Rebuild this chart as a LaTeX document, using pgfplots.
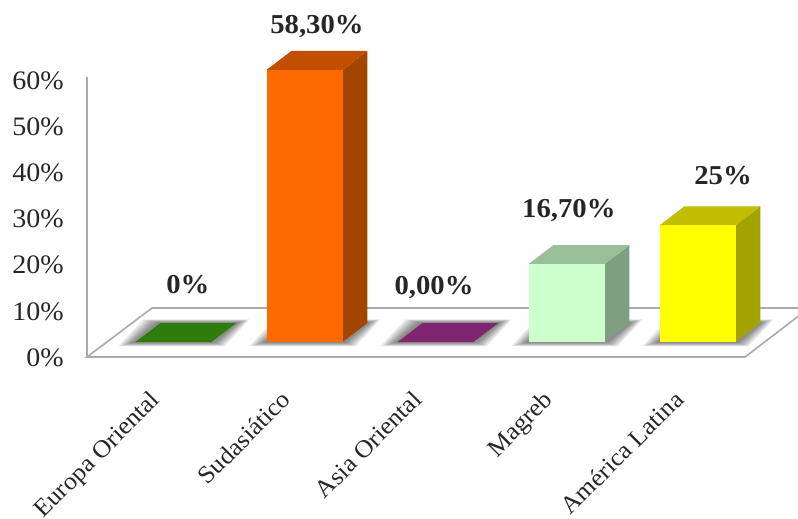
\documentclass[border=0pt]{standalone}
\usepackage{fontspec}
\setmainfont[FakeStretch=1.05]{Liberation Serif}
\usepackage{pgfplots}
\pgfplotsset{compat=1.18}
\definecolor{axisgray}{RGB}{170,170,170}
\definecolor{ctext}{RGB}{38,38,38}
\newcommand\shadowlayer[2]{%
  \fill[black, opacity=0.09]
    (axis cs:#1-0.29-0.13*#2,-0.9*#2) -- (axis cs:#1+0.29+0.10*#2,-0.9*#2)
    -- (axis cs:#1+0.48+0.10*#2,4.07+0.8*#2) -- (axis cs:#1-0.10-0.13*#2,4.07+0.8*#2) -- cycle;}
\begin{document}
\begin{tikzpicture}
\path[use as bounding box] (-65.25pt,-120.75pt) rectangle (533.25pt,267.75pt);
\begin{axis}[
    scale only axis,
    width=533.25pt,
    height=267.75pt,
    xmin=-0.6603, xmax=4.767,
    ymin=-3.214, ymax=73.28,
    clip=false,
    axis line style={draw=none},
    major tick length=0pt,
    xtick={0,1,2,3,4},
    xticklabels={Europa Oriental,Sudasiático,Asia Oriental,Magreb,América Latina},
    xticklabel style={rotate=45, anchor=north east, font=\fontsize{18.5}{18.5}\selectfont, text=ctext, xshift=-26.5pt, yshift=-0.5pt},
    ytick={-3.21,6.68,16.57,26.46,36.35,46.24,56.13},
    yticklabels={0\%,10\%,20\%,30\%,40\%,50\%,60\%},
    yticklabel style={font=\fontsize{20}{20}\selectfont, text=ctext, xshift=-14pt, yshift=-0.4pt},
]
% floor and wall
\addplot[fill=white, draw=axisgray, line width=1.2pt] coordinates {(-0.66,-3.21) (4.363,-3.21) (4.851,7.29) (-0.164,7.29)} -- cycle;
\addplot[draw=axisgray, line width=1.2pt] coordinates {(-0.66,-3.21) (-0.66,56.8)};

% soft shadows on the floor
\pgfplotsinvokeforeach{0,1,2,3,4}{
  \shadowlayer{#1}{1}\shadowlayer{#1}{0.85}\shadowlayer{#1}{0.7}\shadowlayer{#1}{0.55}\shadowlayer{#1}{0.4}\shadowlayer{#1}{0.25}
}

% Europa Oriental
\addplot[fill={rgb,255:red,46;green,125;blue,11}, draw=none] coordinates {(-0.29,0) (0.29,0) (0.48,4.07) (-0.10,4.07)} -- cycle;
% Sudasiatico
\addplot[fill={rgb,255:red,163;green,68;blue,0}, draw=none] coordinates {(1.29,0) (1.48,4.07) (1.48,62.37) (1.29,58.3)} -- cycle;
\addplot[fill={rgb,255:red,194;green,78;blue,0}, draw=none] coordinates {(0.71,58.3) (1.29,58.3) (1.48,62.37) (0.90,62.37)} -- cycle;
\addplot[ybar, bar shift=0pt, bar width=0.58, fill={rgb,255:red,255;green,106;blue,0}, draw=none] coordinates {(1,58.3)};
% Asia Oriental
\addplot[fill={rgb,255:red,128;green,38;blue,112}, draw=none] coordinates {(1.71,0) (2.29,0) (2.48,4.07) (1.90,4.07)} -- cycle;
% Magreb
\addplot[fill={rgb,255:red,127;green,160;blue,128}, draw=none] coordinates {(3.29,0) (3.48,4.07) (3.48,20.77) (3.29,16.7)} -- cycle;
\addplot[fill={rgb,255:red,153;green,191;blue,153}, draw=none] coordinates {(2.71,16.7) (3.29,16.7) (3.48,20.77) (2.90,20.77)} -- cycle;
\addplot[ybar, bar shift=0pt, bar width=0.58, fill={rgb,255:red,204;green,255;blue,204}, draw=none] coordinates {(3,16.7)};
% America Latina
\addplot[fill={rgb,255:red,163;green,163;blue,0}, draw=none] coordinates {(4.29,0) (4.48,4.07) (4.48,29.07) (4.29,25)} -- cycle;
\addplot[fill={rgb,255:red,194;green,189;blue,0}, draw=none] coordinates {(3.71,25) (4.29,25) (4.48,29.07) (3.90,29.07)} -- cycle;
\addplot[ybar, bar shift=0pt, bar width=0.58, fill={rgb,255:red,255;green,255;blue,0}, draw=none] coordinates {(4,25)};

% value labels
\begin{scope}[every node/.style={font=\fontsize{20.5}{20.5}\selectfont\bfseries, text=ctext}]
\node at (axis cs:0.11,12.2) {0\%};
\node at (axis cs:1.095,67.5) {58,30\%};
\node at (axis cs:1.989,11.6) {0,00\%};
\node at (axis cs:3.018,28.1) {16,70\%};
\node at (axis cs:4.195,35.6) {25\%};
\end{scope}
\end{axis}
\end{tikzpicture}
\end{document}
